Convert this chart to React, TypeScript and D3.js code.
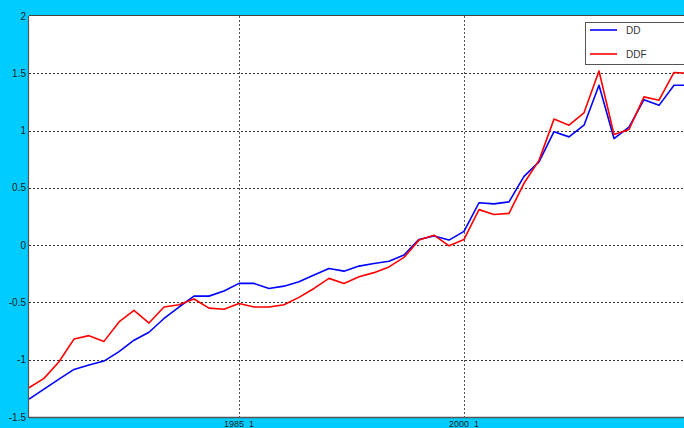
import React, { useEffect, useRef } from 'react';
import * as d3 from 'd3';

// one point per year, 1971 .. 2015
const years = d3.range(1971, 2016);

const ddValues = [
  -1.344, -1.257, -1.17, -1.085, -1.047, -1.012, -0.93, -0.83, -0.76, -0.64,
  -0.54, -0.445, -0.445, -0.40, -0.334, -0.334, -0.378, -0.358, -0.32, -0.26,
  -0.204, -0.227, -0.183, -0.16, -0.14, -0.087, 0.05, 0.08, 0.044, 0.12,
  0.37, 0.36, 0.378, 0.60, 0.727, 0.99, 0.945, 1.047, 1.396, 0.93,
  1.03, 1.27, 1.22, 1.396, 1.396,
];

const ddfValues = [
  -1.245, -1.163, -1.018, -0.82, -0.79, -0.84, -0.67, -0.57, -0.68, -0.54,
  -0.52, -0.47, -0.55, -0.56, -0.51, -0.54, -0.54, -0.52, -0.456, -0.378,
  -0.29, -0.334, -0.276, -0.24, -0.19, -0.107, 0.044, 0.087, -0.006, 0.05,
  0.31, 0.268, 0.277, 0.54, 0.74, 1.10, 1.047, 1.155, 1.52, 0.966,
  1.01, 1.294, 1.265, 1.507, 1.50,
];

const yTicks = [-1.5, -1, -0.5, 0, 0.5, 1, 1.5, 2];
const xTickYears = [1985, 2000];
const xTickLabels = ['1985_1', '2000_1'];

const series = [
  { name: 'DD', values: ddValues, color: '#0000ff' },
  { name: 'DDF', values: ddfValues, color: '#ff0000' },
];

export default function App() {
  const ref = useRef<SVGSVGElement>(null);

  useEffect(() => {
    const width = 684;
    const height = 428;
    const left = 29;
    const top = 16;
    const bottom = 417;
    const right = 689;

    const svg = d3.select(ref.current);
    svg.selectAll('*').remove();

    svg.append('rect')
      .attr('width', width)
      .attr('height', height)
      .attr('fill', '#00ccff');

    svg.append('rect')
      .attr('x', left)
      .attr('y', top)
      .attr('width', right - left + 20)
      .attr('height', bottom - top)
      .attr('fill', '#ffffff');

    const x = d3.scaleLinear().domain([1971, 2015]).range([left, right]);
    const y = d3.scaleLinear().domain([-1.5, 2]).range([bottom, top]);

    // grid
    svg.append('g')
      .selectAll('line')
      .data(yTicks.filter(t => t > -1.5 && t < 2))
      .enter()
        .append('line')
        .attr('x1', left)
        .attr('x2', width)
        .attr('y1', d => Math.round(y(d)) + 0.5)
        .attr('y2', d => Math.round(y(d)) + 0.5)
        .attr('stroke', '#333')
        .attr('stroke-dasharray', '2,2');

    svg.append('g')
      .selectAll('line')
      .data(xTickYears)
      .enter()
        .append('line')
        .attr('x1', d => Math.round(x(d)) + 0.5)
        .attr('x2', d => Math.round(x(d)) + 0.5)
        .attr('y1', top)
        .attr('y2', bottom)
        .attr('stroke', '#555')
        .attr('stroke-dasharray', '2,2');

    // lines
    const line = d3.line<number>()
      .x((d, i) => x(years[i]))
      .y(d => y(d));

    svg.append('g')
      .selectAll('path')
      .data(series)
      .enter()
        .append('path')
        .attr('d', d => line(d.values))
        .attr('fill', 'none')
        .attr('stroke', d => d.color)
        .attr('stroke-width', 1.6)
        .attr('stroke-linejoin', 'round');

    // axes frame
    svg.append('line')
      .attr('x1', left - 0.5).attr('x2', left - 0.5)
      .attr('y1', top).attr('y2', bottom + 1)
      .attr('stroke', '#555').attr('stroke-width', 1.2);
    svg.append('line')
      .attr('x1', left).attr('x2', width)
      .attr('y1', top - 0.5).attr('y2', top - 0.5)
      .attr('stroke', '#444').attr('stroke-width', 1.2);
    svg.append('line')
      .attr('x1', left).attr('x2', width)
      .attr('y1', bottom + 0.5).attr('y2', bottom + 0.5)
      .attr('stroke', '#555').attr('stroke-width', 1.5);

    // tick labels
    svg.append('g')
      .selectAll('text')
      .data(yTicks)
      .enter()
        .append('text')
        .attr('x', left - 3)
        .attr('y', d => y(d) + 3.5)
        .attr('text-anchor', 'end')
        .attr('font-family', 'Arial, Liberation Sans, sans-serif')
        .attr('font-size', 10)
        .attr('fill', '#222')
        .text(d => String(d));

    svg.append('g')
      .selectAll('text')
      .data(xTickYears)
      .enter()
        .append('text')
        .attr('x', d => x(d))
        .attr('y', 427)
        .attr('text-anchor', 'middle')
        .attr('font-family', 'Arial, Liberation Sans, sans-serif')
        .attr('font-size', 9)
        .attr('fill', '#222')
        .text((d, i) => xTickLabels[i]);

    // legend
    const legend = svg.append('g').attr('transform', 'translate(585,22)');
    legend.append('rect')
      .attr('x', 0.5)
      .attr('y', 0.5)
      .attr('width', 120)
      .attr('height', 42)
      .attr('fill', '#fff')
      .attr('stroke', '#555');
    series.forEach((s, i) => {
      const ly = 8 + i * 24;
      legend.append('line')
        .attr('x1', 5).attr('x2', 32)
        .attr('y1', ly).attr('y2', ly)
        .attr('stroke', s.color)
        .attr('stroke-width', 1.6);
      legend.append('text')
        .attr('x', 41)
        .attr('y', ly + 4)
        .attr('font-family', 'Arial, Liberation Sans, sans-serif')
        .attr('font-size', 10)
        .attr('fill', '#333')
        .text(s.name);
    });
  }, []);

  return (
    <div style={{ position: 'absolute', left: 0, top: 0 }}>
      <svg ref={ref} width={684} height={428} style={{ display: 'block' }} />
    </div>
  );
}
